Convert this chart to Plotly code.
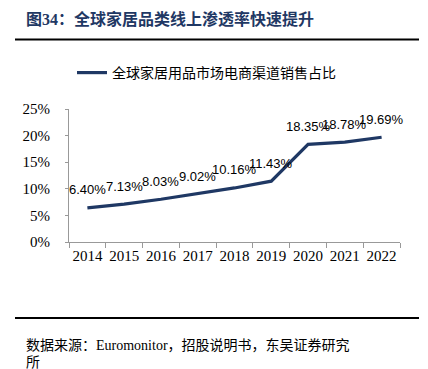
import plotly.graph_objects as go

years = ["2014", "2015", "2016", "2017", "2018", "2019", "2020", "2021", "2022"]
share = [6.40, 7.13, 8.03, 9.02, 10.16, 11.43, 18.35, 18.78, 19.69]
series_name = "全球家居用品市场电商渠道销售占比"
title_text = "图34：全球家居品类线上渗透率快速提升"
source_line1 = "数据来源：Euromonitor，招股说明书，东吴证券研究"
source_line2 = "所"
y_ticks = [0, 5, 10, 15, 20, 25]

W, H = 428, 369
def px_x(x): return x / W
def px_y(y): return 1 - y / H

SERIF = "'Times New Roman', 'Liberation Serif', 'Noto Sans CJK SC', serif"
NAVY = "#1F3864"

fig = go.Figure()
fig.add_trace(go.Scatter(
    x=years, y=share, mode="lines", name=series_name,
    line=dict(color=NAVY, width=3.2),
    hoverinfo="skip",
))

for i, v in enumerate(share):
    fig.add_annotation(x=i, y=v, text=f"{v:.2f}%", showarrow=False,
                       yshift=18, xref="x", yref="y",
                       font=dict(family="'Liberation Sans', Arial, sans-serif", size=13, color="#000"))

fig.update_layout(
    width=W, height=H, autosize=False,
    margin=dict(l=0, r=0, t=0, b=0, autoexpand=False),
    paper_bgcolor="white", plot_bgcolor="white",
    showlegend=True,
    legend=dict(x=px_x(72), y=px_y(73), xanchor="left", yanchor="middle",
                orientation="h", font=dict(family=SERIF, size=14, color="#000"),
                bgcolor="rgba(0,0,0,0)", itemwidth=30),
    xaxis=dict(domain=[px_x(69), px_x(400)], type="category", range=[-0.5, 8.5],
               automargin=False, tickangle=0,
               showline=True, linecolor="#999", linewidth=1,
               ticks="outside", ticklen=5, tickcolor="#999", tickson="boundaries",
               showgrid=False, zeroline=False,
               tickfont=dict(family=SERIF, size=15, color="#000")),
    yaxis=dict(domain=[px_y(242), px_y(109)], range=[0, 25],
               automargin=False,
               tickvals=y_ticks, ticktext=[f"{t}%" for t in y_ticks],
               showline=True, linecolor="#999", linewidth=1,
               ticks="outside", ticklen=3, tickcolor="#999",
               ticklabelstandoff=12,
               showgrid=False, zeroline=False,
               tickfont=dict(family=SERIF, size=15, color="#000")),
)

fig.add_annotation(x=px_x(24), y=px_y(19), xref="paper", yref="paper",
                   xanchor="left", yanchor="middle", showarrow=False,
                   text=f"<b>{title_text}</b>",
                   font=dict(family=SERIF, size=16, color=NAVY))
fig.add_annotation(x=px_x(24), y=px_y(345), xref="paper", yref="paper",
                   xanchor="left", yanchor="middle", showarrow=False,
                   text=source_line1,
                   font=dict(family=SERIF, size=14, color="#000"))
fig.add_annotation(x=px_x(24), y=px_y(362), xref="paper", yref="paper",
                   xanchor="left", yanchor="middle", showarrow=False,
                   text=source_line2,
                   font=dict(family=SERIF, size=14, color="#000"))

for yy in (39.5, 318):
    fig.add_shape(type="line", xref="paper", yref="paper",
                  x0=px_x(15), x1=px_x(419), y0=px_y(yy), y1=px_y(yy),
                  line=dict(color="#000", width=2))

fig.write_html("out.html", config={"displayModeBar": False},
               post_script="document.body.style.margin='0';")
